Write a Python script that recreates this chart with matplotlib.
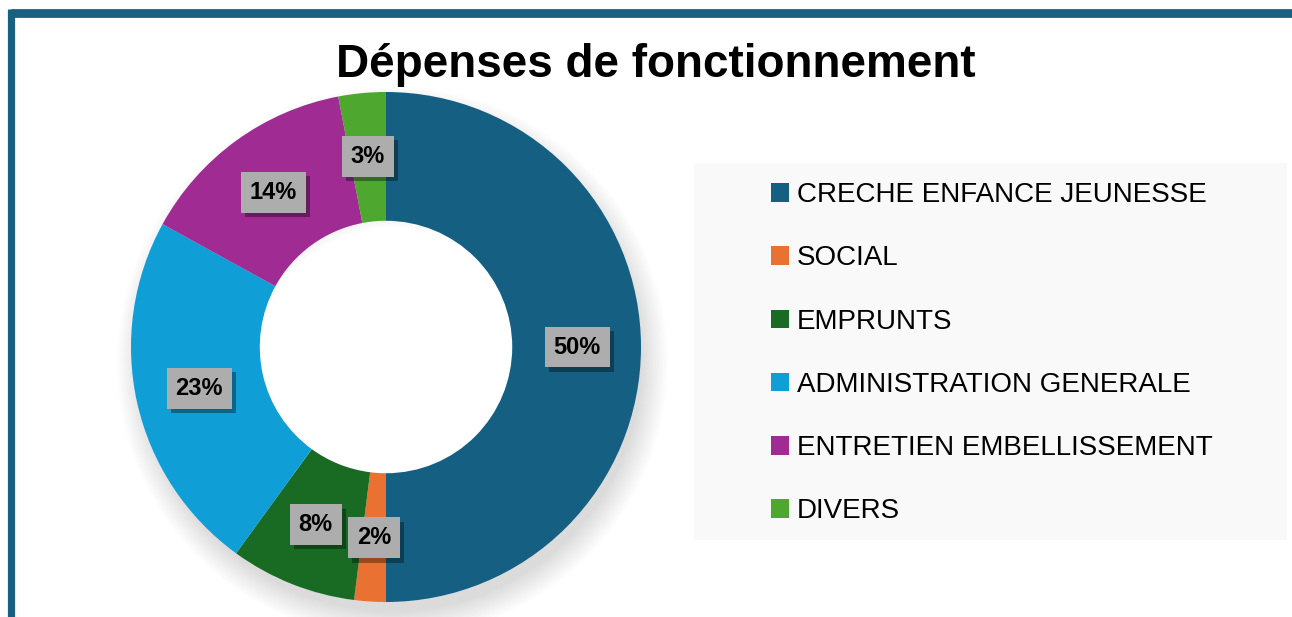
import matplotlib
matplotlib.use('Agg')
import matplotlib.pyplot as plt
import matplotlib.patheffects as pe
from matplotlib.patches import Patch, Rectangle, Wedge

# data
categories = ['CRECHE ENFANCE JEUNESSE', 'SOCIAL', 'EMPRUNTS',
              'ADMINISTRATION GENERALE', 'ENTRETIEN EMBELLISSEMENT', 'DIVERS']
shares = [50, 2, 8, 23, 14, 3]
colors = ['#156082', '#E97132', '#196B24', '#0F9ED5', '#A02B93', '#4EA72E']
title = 'Dépenses de fonctionnement'

plt.rcParams['font.family'] = ['Liberation Sans', 'DejaVu Sans']

W, H = 1292, 617
fig = plt.figure(figsize=(W / 100, H / 100), dpi=100)

# frame of the page (only top and left visible)
frame_col = '#17607F'
fig.add_artist(plt.Line2D([10.5 / W, 1.01], [1 - 12.5 / H, 1 - 12.5 / H],
                          transform=fig.transFigure, color=frame_col, lw=6.3,
                          solid_capstyle='butt'))
fig.add_artist(plt.Line2D([10.5 / W, 10.5 / W], [-0.01, 1 - 9 / H],
                          transform=fig.transFigure, color=frame_col, lw=5.2,
                          solid_capstyle='butt'))

# donut axes: center (386, 347), radius 255 px
cx, cy, r = 386, 347, 255
ax = fig.add_axes([(cx - r) / W, 1 - (cy + r) / H, 2 * r / W, 2 * r / H])
ax.set_xlim(-1, 1)
ax.set_ylim(-1, 1)
ax.set_aspect('equal')
ax.axis('off')

# soft shadow behind the ring, mostly towards the bottom
for i in range(12):
    ax.add_patch(Wedge((0.025, -0.06), 0.98 + i * 0.009, 0, 360, width=0.45,
                       facecolor='black', alpha=0.012, lw=0, zorder=0,
                       clip_on=False))

wedges, texts, autotexts = ax.pie(
    shares, colors=colors, startangle=90, counterclock=False, radius=1,
    autopct='%d%%', pctdistance=0.75,
    wedgeprops=dict(width=0.505, linewidth=0),
    textprops=dict(fontsize=17, fontweight='bold', color='black'))
ax.set_xlim(-1, 1)
ax.set_ylim(-1, 1)

for t in autotexts:
    t.set_bbox(dict(boxstyle='square,pad=0.38', facecolor='#ADADAD',
                    edgecolor='none'))
    t.get_bbox_patch().set_path_effects([
        pe.SimplePatchShadow(offset=(3, -3), shadow_rgbFace='black', alpha=0.35),
        pe.Normal()])

# title
fig.text(656 / W, 1 - 65 / H, title, ha='center', va='center',
         fontsize=33, fontweight='bold', color='black')

# legend background
fig.add_artist(Rectangle((694 / W, 1 - 540 / H), (1287 - 694) / W,
                         (540 - 163) / H, transform=fig.transFigure,
                         facecolor='#F9F9F9', edgecolor='none', zorder=0))

handles = [Patch(facecolor=c, edgecolor='none') for c in colors]
fig.legend(handles, categories, loc='upper left',
           bbox_to_anchor=(760 / W, 1 - 171 / H), frameon=False,
           fontsize=20, handlelength=0.65, handleheight=0.65,
           handletextpad=0.27, labelspacing=1.34, borderaxespad=0)

fig.savefig('out.png', dpi=100)
